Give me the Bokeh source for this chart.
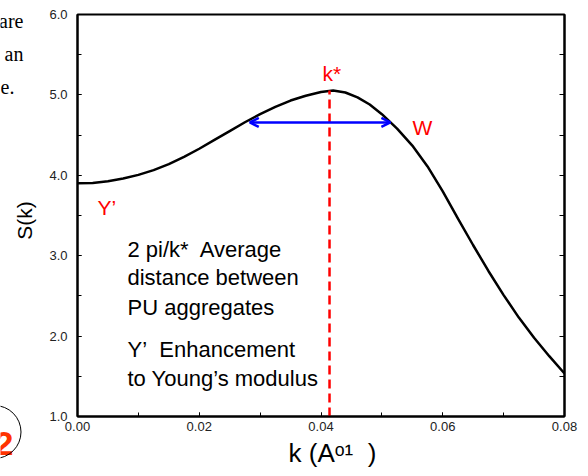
import numpy as np
from bokeh.plotting import figure
from bokeh.layouts import row
from bokeh.models import (LinearAxis, SingleIntervalTicker, NumeralTickFormatter,
                          CustomJSTickFormatter, Label, Arrow, OpenHead, Title, Range1d)
from bokeh.core.properties import value
from bokeh.embed import file_html
from bokeh.resources import INLINE

# ---- data ----
k_vals = [0.0000, 0.0025, 0.0050, 0.0075, 0.0100, 0.0125, 0.0150, 0.0175,
          0.0200, 0.0225, 0.0250, 0.0275, 0.0300, 0.0325, 0.0350, 0.0375,
          0.0400, 0.0420, 0.0440, 0.0460, 0.0480, 0.0500, 0.0525, 0.0550,
          0.0575, 0.0600, 0.0625, 0.0650, 0.0675, 0.0700, 0.0725, 0.0750,
          0.0775, 0.0800]
s_vals = [3.900, 3.905, 3.925, 3.960, 4.005, 4.065, 4.140, 4.230,
          4.330, 4.440, 4.550, 4.660, 4.760, 4.850, 4.930, 4.990,
          5.035, 5.055, 5.030, 4.970, 4.880, 4.760, 4.580, 4.370,
          4.110, 3.800, 3.460, 3.130, 2.810, 2.510, 2.230, 1.980,
          1.750, 1.535]
k_star = 0.0414
s_peak = 5.055
w_left = 0.0283
w_right = 0.0514
w_level = 4.657

FONT = "Liberation Sans"
SERIF = "Liberation Serif"
H = 476
LW = 40          # width of the left margin strip

# ---------------- left strip: page text, circled 2, y-axis title ----------------
left = figure(width=LW, height=H, output_backend="svg",
              toolbar_location=None, title=None,
              x_range=Range1d(0, LW), y_range=Range1d(H, 0),
              x_axis_location=None, y_axis_location=None,
              min_border=0, min_border_left=0, min_border_right=0,
              min_border_top=0, min_border_bottom=0, align="start")
try:
    left.frame_align = False
except Exception:
    # frames get aligned with the main chart's frame (14 .. 416 px)
    left.y_range.start = 476 + (476 - 416) * 476 / 402 - 60
left.grid.visible = False
left.outline_line_color = None
left.background_fill_color = "white"
left.border_fill_color = "white"

left.text(x=[23, 23, 14], y=[20, 53, 86], text=["are", "an", "e."],
          text_font=value(SERIF), text_font_size="20px", text_color="black",
          text_align="right", text_baseline="alphabetic")
left.text(x=[24], y=[220], text=["S(k)"], angle=np.pi / 2,
          text_font=value(FONT), text_font_size="21px", text_color="black",
          text_align="center", text_baseline="middle")
left.text(x=[13], y=[443], text=["2"], text_font=value(FONT), text_font_size="34px",
          text_font_style="bold", text_color="#ff3300",
          text_align="right", text_baseline="alphabetic")
left.circle(x=[-6], y=[431.5], radius=26.5, fill_color=None, line_color="black",
            line_width=1)

# ---------------- main chart ----------------
p = figure(width=540, height=H, output_backend="svg", toolbar_location=None,
           x_range=Range1d(0, 0.08), y_range=Range1d(1, 6), title=None,
           min_border_left=77 - LW, min_border_right=16, min_border_top=14,
           min_border_bottom=H - 416, align="start")
p.grid.visible = False
p.background_fill_color = "white"
p.border_fill_color = "white"
p.outline_line_color = "black"
p.outline_line_width = 2

xa = p.xaxis[0]
xa.ticker = SingleIntervalTicker(interval=0.02, num_minor_ticks=2)
xa.formatter = NumeralTickFormatter(format="0.00")
ya = p.yaxis[0]
ya.ticker = SingleIntervalTicker(interval=1.0, num_minor_ticks=2)
ya.formatter = NumeralTickFormatter(format="0.0")
for ax in (xa, ya):
    ax.axis_line_color = "black"
    ax.axis_line_width = 2
    ax.major_tick_in = 4
    ax.major_tick_out = 0
    ax.minor_tick_in = 4
    ax.minor_tick_out = 0
    ax.major_tick_line_color = "black"
    ax.minor_tick_line_color = "black"
    ax.major_label_text_font = FONT
    ax.major_label_text_font_size = "13px"
    ax.major_label_text_color = "#222222"
xa.major_label_standoff = 5
ya.major_label_standoff = 10

ra = LinearAxis(ticker=SingleIntervalTicker(interval=0.5, num_minor_ticks=0),
                formatter=CustomJSTickFormatter(code="return ''"),
                major_tick_in=5, major_tick_out=0, minor_tick_in=0, minor_tick_out=0,
                axis_line_color="black", axis_line_width=2,
                major_label_standoff=0)
p.add_layout(ra, "right")

xt = Title(text="k (A\u1d52\u00b9\u00a0 )", align="left", offset=288 - 77,
           text_font=FONT, text_font_size="26px", text_font_style="normal",
           text_color="black", standoff=5)
p.add_layout(xt, "below")

# curve
p.line(k_vals, s_vals, line_color="black", line_width=2.5)
# dashed k* line
p.segment(x0=[k_star], y0=[1.0], x1=[k_star], y1=[s_peak], line_color="#ff0000",
          line_width=2.5, line_dash="9 5")
# width arrow
p.add_layout(Arrow(start=OpenHead(size=9, line_color="#0000ff", line_width=2.5),
                   end=OpenHead(size=9, line_color="#0000ff", line_width=2.5),
                   x_start=w_left, y_start=w_level, x_end=w_right, y_end=w_level,
                   line_color="#0000ff", line_width=2.5))

def tx(px):
    return (px - 77) / 6087.5

def ty(py):
    return 6 - (py - 14) / 80.4

def lab(text, px, py, size="22px", color="black"):
    p.add_layout(Label(x=tx(px), y=ty(py), text=text, text_font=FONT,
                       text_font_size=size, text_color=color, text_align="left",
                       text_baseline="alphabetic", text_font_style="normal"))

NB = "\u00a0"
lab("k*", 322, 73, size="21px", color="#ff0000")
lab("W", 412, 127, size="21px", color="#ff0000")
lab("Y\u2019", 97, 207, size="21px", color="#ff0000")
lab("2 pi/k*" + NB + " Average", 127, 249)
lab("distance between", 127, 277)
lab("PU aggregates", 127, 307)
lab("Y\u2019" + NB + " Enhancement", 127, 349)
lab("to Young\u2019s modulus", 127, 378)

layout = row(left, p)
open("out.html", "w").write(file_html(layout, INLINE))
